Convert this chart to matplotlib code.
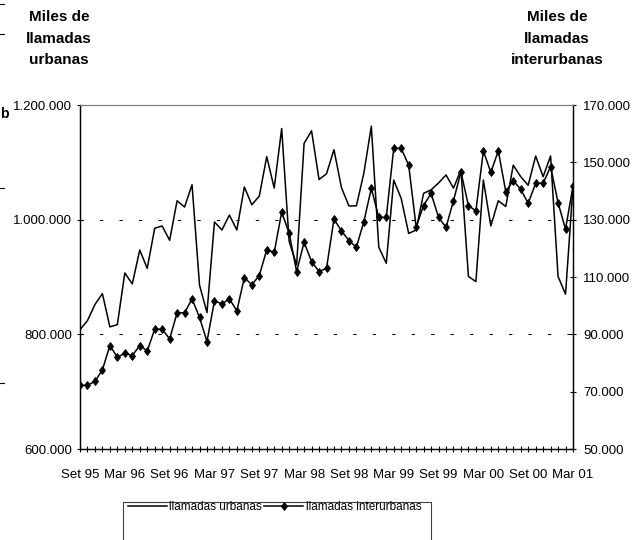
import matplotlib
matplotlib.use("Agg")
import matplotlib.pyplot as plt
from matplotlib.ticker import FixedLocator, FuncFormatter
from matplotlib.patches import Rectangle
from matplotlib.lines import Line2D

plt.rcParams['font.family'] = ['Liberation Sans', 'DejaVu Sans']

# Meses: Set 95 .. Mar 01 (67 puntos mensuales)
tick_labels = ['Set 95', 'Mar 96', 'Set 96', 'Mar 97', 'Set 97', 'Mar 98',
               'Set 98', 'Mar 99', 'Set 99', 'Mar 00', 'Set 00', 'Mar 01']

# Miles de llamadas urbanas (eje izquierdo)
urbanas = [808, 824, 852, 871, 813, 817, 907, 888, 947, 915,
           985, 989, 964, 1033, 1022, 1061, 886, 838, 996, 982,
           1008, 982, 1057, 1026, 1041, 1110, 1055, 1159, 962, 921,
           1133, 1155, 1070, 1080, 1122, 1056, 1024, 1024, 1081, 1163,
           952, 924, 1069, 1037, 976, 982, 1046, 1052, 1064, 1078,
           1055, 1087, 901, 892, 1069, 989, 1033, 1023, 1095, 1075,
           1060, 1111, 1075, 1111, 901, 870, 1058]
urbanas = [v * 1000 for v in urbanas]

# Miles de llamadas interurbanas (eje derecho)
interurbanas = [72.2, 72.2, 73.6, 77.6, 86.1, 82.0, 83.4, 82.6, 86.1, 84.2,
                91.8, 91.8, 88.4, 97.5, 97.5, 102.4, 95.9, 87.5, 101.7, 100.6,
                102.4, 98.2, 109.8, 107.3, 110.5, 119.5, 118.6, 132.6, 125.3, 111.9,
                122.1, 115.4, 111.9, 113.0, 130.2, 126.1, 122.7, 120.4, 129.3, 140.9,
                130.8, 130.8, 154.9, 154.9, 149.0, 127.5, 134.9, 139.2, 130.8, 127.3,
                136.6, 146.7, 134.9, 133.1, 154.0, 146.5, 154.0, 139.8, 143.6, 140.6,
                135.7, 142.7, 142.7, 148.5, 135.9, 126.7, 141.7]
interurbanas = [v * 1000 for v in interurbanas]

meses = list(range(len(urbanas)))

W, H = 644, 540
fig = plt.figure(figsize=(W / 100, H / 100), dpi=100)
ax = fig.add_axes([80 / W, 1 - 449 / H, 493 / W, 344 / H])
ax2 = ax.twinx()

miles = FuncFormatter(lambda v, p: f"{int(round(v)):,}".replace(",", "."))

# lineas de cuadricula (solo las interiores)
for v in [800000, 1000000]:
    ax.axhline(v, color='black', lw=0.75, linestyle=(0, (3.2, 15.5)), zorder=1)

l1, = ax.plot(meses, urbanas, color='black', lw=1.1, zorder=3)
l2, = ax2.plot(meses, interurbanas, color='black', lw=1.1, marker='d',
               markersize=4.4, markeredgewidth=0.6, zorder=3)

ax.set_xlim(0, len(meses) - 1)
ax.set_ylim(600000, 1200000)
ax2.set_ylim(50000, 170000)

ax.xaxis.set_major_locator(FixedLocator(meses[::6]))
ax.xaxis.set_minor_locator(FixedLocator(meses))
ax.set_xticklabels(tick_labels)
ax.set_yticks([600000, 800000, 1000000, 1200000])
ax2.set_yticks(list(range(50000, 170001, 20000)))
ax.yaxis.set_major_formatter(miles)
ax2.yaxis.set_major_formatter(miles)

ax.tick_params(axis='x', which='both', direction='inout', length=4.3, width=0.8,
               labelsize=9.5, pad=12.3)
ax.tick_params(axis='y', direction='inout', length=4.3, width=0.8,
               labelsize=9.5, pad=3.4)
ax2.tick_params(axis='y', direction='inout', length=4.3, width=0.8,
                labelsize=9.5, pad=5)

for a in (ax, ax2):
    a.spines['top'].set_color('#808080')
    for s in ('left', 'right', 'bottom'):
        a.spines[s].set_color('black')
        a.spines[s].set_linewidth(0.9)

# titulos de los ejes
for txt, y in [('Miles de', 17), ('llamadas', 39), ('urbanas', 60)]:
    fig.text(59 / W, 1 - y / H, txt, ha='center', va='center',
             fontsize=11, fontweight='bold')
for txt, y in [('Miles de', 17), ('llamadas', 39), ('interurbanas', 60)]:
    fig.text(557 / W, 1 - y / H, txt, ha='center', va='center',
             fontsize=11, fontweight='bold')

# leyenda
fig.legend([l1, l2], ['llamadas urbanas', 'llamadas interurbanas'],
           loc='center left', bbox_to_anchor=(128 / W, 1 - 507 / H), ncol=2,
           frameon=False, fontsize=8.5, handlelength=3.3, handletextpad=0.2,
           columnspacing=0.2, borderpad=0, borderaxespad=0)
fig.add_artist(Rectangle((122.7 / W, 1 - 560 / H), 308 / W, 58 / H,
                         transform=fig.transFigure, fill=False,
                         edgecolor='#404040', lw=0.8))

# restos recortados en el borde izquierdo
fig.text(0.5 / W, 1 - 114 / H, 'b', fontsize=10, fontweight='bold', va='center')
for y in [4, 34, 188, 383]:
    fig.add_artist(Line2D([0, 4 / W], [1 - y / H, 1 - y / H],
                          transform=fig.transFigure, color='black', lw=0.8))

fig.savefig('out.png', dpi=100)
